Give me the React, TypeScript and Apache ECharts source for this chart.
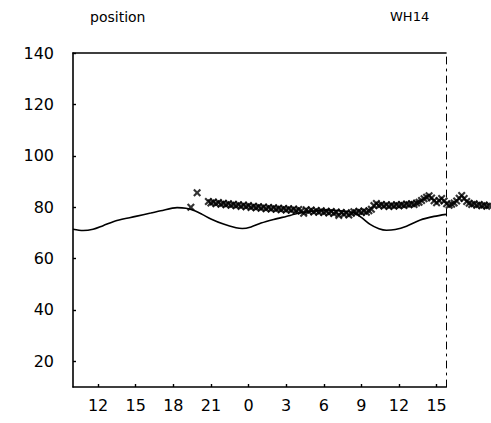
import React, { useEffect, useRef } from "react";
import * as echarts from "echarts";

const TITLE = "position";
const STATION = "WH14";
const FONT = "DejaVu Sans";

// Axis ranges (x in hours counted from midnight of the first day)
const X_MIN = 10;
const X_MAX = 39.75;
const Y_MIN = 10;
const Y_MAX = 140;
const X_TICKS = [12, 15, 18, 21, 24, 27, 30, 33, 36, 39];
const Y_TICKS = [20, 40, 60, 80, 100, 120, 140];

// Modelled curve
const MODEL_HOURS = [10, 10.8, 11.6, 12.4, 13.5, 15, 16.2, 17, 18.3, 19, 19.6, 20.3, 21, 22, 23, 23.5, 24.2, 25, 26, 27, 28, 29, 30.2, 31.3, 32.4, 33, 33.7, 34.4, 35, 35.7, 36.6, 37.7, 38.8, 39.75];
const MODEL_VALUES = [71.4, 70.9, 71.4, 72.8, 74.8, 76.4, 77.7, 78.6, 79.8, 79.6, 78.8, 77.2, 75.4, 73.4, 72.0, 71.7, 72.3, 73.8, 75.2, 76.4, 77.6, 78.4, 78.9, 78.6, 77.8, 76.0, 73.3, 71.6, 71.0, 71.3, 72.6, 75.0, 76.4, 77.2];

// First isolated observations
const EARLY_HOURS = [19.4, 19.9];
const EARLY_VALUES = [80.0, 85.6];

// Regular observations, sampled every 12 minutes from 20:48
const OBS_START = 20.8;
const OBS_STEP = 0.2;
const OBS_VALUES = [
  82.2, 81.6, 82.0, 81.3, 81.8, 81.1, 81.5, 80.9, 81.3, 80.7,
  81.1, 80.5, 80.9, 80.3, 80.8, 80.2, 80.6, 79.9, 80.4, 79.8,
  80.2, 79.6, 80.1, 79.4, 79.9, 79.3, 79.8, 79.2, 79.6, 79.0,
  79.5, 78.9, 79.4, 78.8, 79.3, 78.6, 79.1, 78.5, 77.6, 79.0,
  78.3, 78.9, 78.1, 78.7, 78.0, 78.6, 77.9, 78.4, 77.7, 78.3,
  77.5, 78.1, 76.8, 77.9, 77.2, 77.8, 76.9, 77.6, 78.2, 77.8,
  78.4, 77.9, 78.5, 78.0, 78.6, 79.2, 80.6, 81.4, 80.6, 81.0,
  80.4, 80.9, 80.3, 80.8, 80.4, 80.9, 80.5, 81.0, 80.6, 81.2,
  80.9, 81.3, 81.0, 81.6, 81.9, 82.6, 83.3, 83.9, 84.4, 83.6,
  82.5, 81.7, 82.6, 83.4, 82.4, 81.3, 80.7, 81.1, 81.6, 82.4,
  83.5, 84.5, 83.4, 82.2, 81.5, 81.0, 81.3, 80.7, 81.0, 80.5,
  80.8, 80.4, 80.6,
];

// Bold "x" marker used for the observations
const CROSS = "path://M0,1.9L1.9,0L5,3.1L8.1,0L10,1.9L6.9,5L10,8.1L8.1,10L5,6.9L1.9,10L0,8.1L3.1,5Z";

export default function App() {
  const ref = useRef<HTMLDivElement>(null);

  useEffect(() => {
    if (!ref.current) return;
    const chart = echarts.init(ref.current, undefined, { renderer: "svg" });

    const model = MODEL_HOURS.map((h, i) => [h, MODEL_VALUES[i]]);
    const obs = [
      ...EARLY_HOURS.map((h, i) => [h, EARLY_VALUES[i]]),
      ...OBS_VALUES.map((v, i) => [OBS_START + i * OBS_STEP, v]),
    ];

    const labelStyle = { color: "#000", fontFamily: FONT, fontSize: 16 };
    const axisLineStyle = { color: "#000", width: 1.6 };

    chart.setOption({
      animation: false,
      backgroundColor: "#fff",
      grid: { left: 73, right: 45, top: 53, bottom: 36, containLabel: false, outerBoundsMode: "none" },
      xAxis: [
        {
          type: "value",
          min: X_MIN,
          max: X_MAX,
          position: "bottom",
          axisLine: { show: true, lineStyle: axisLineStyle },
          axisTick: { show: true, inside: true, length: 3, customValues: X_TICKS, lineStyle: { color: "#000", width: 1.4 } },
          axisLabel: { ...labelStyle, margin: 10, customValues: X_TICKS, formatter: (v: number) => String(Math.round(v) % 24) },
          splitLine: { show: false },
        },
        {
          type: "value",
          min: X_MIN,
          max: X_MAX,
          position: "top",
          axisLine: { show: true, lineStyle: axisLineStyle },
          axisTick: { show: false },
          axisLabel: { show: false },
          splitLine: { show: false },
        },
      ],
      yAxis: [
        {
          type: "value",
          min: Y_MIN,
          max: Y_MAX,
          position: "left",
          axisLine: { show: true, lineStyle: axisLineStyle },
          axisTick: { show: true, inside: true, length: 3, customValues: Y_TICKS, lineStyle: { color: "#000", width: 1.4 } },
          axisLabel: { ...labelStyle, margin: 19, customValues: Y_TICKS },
          splitLine: { show: false },
        },
        {
          type: "value",
          min: Y_MIN,
          max: Y_MAX,
          position: "right",
          axisLine: { show: true, lineStyle: { color: "#000", width: 1, type: [7, 5, 2, 5] } },
          axisTick: { show: false },
          axisLabel: { show: false },
          splitLine: { show: false },
        },
      ],
      graphic: [
        { type: "text", left: 90, top: 10, style: { text: TITLE, fill: "#000", font: `14px "${FONT}"` } },
        { type: "text", left: 390, top: 10, style: { text: STATION, fill: "#000", font: `13px "${FONT}"` } },
      ],
      series: [
        {
          type: "line",
          data: model,
          smooth: 0.3,
          symbol: "none",
          lineStyle: { color: "#000", width: 1.6 },
          z: 2,
        },
        {
          type: "scatter",
          data: obs,
          symbol: CROSS,
          symbolSize: 8,
          itemStyle: { color: "#000" },
          clip: false,
          z: 3,
        },
      ],
    });

    return () => chart.dispose();
  }, []);

  return (
    <div
      ref={ref}
      style={{ position: "fixed", left: 0, top: 0, width: 491, height: 423, background: "#fff" }}
    />
  );
}
